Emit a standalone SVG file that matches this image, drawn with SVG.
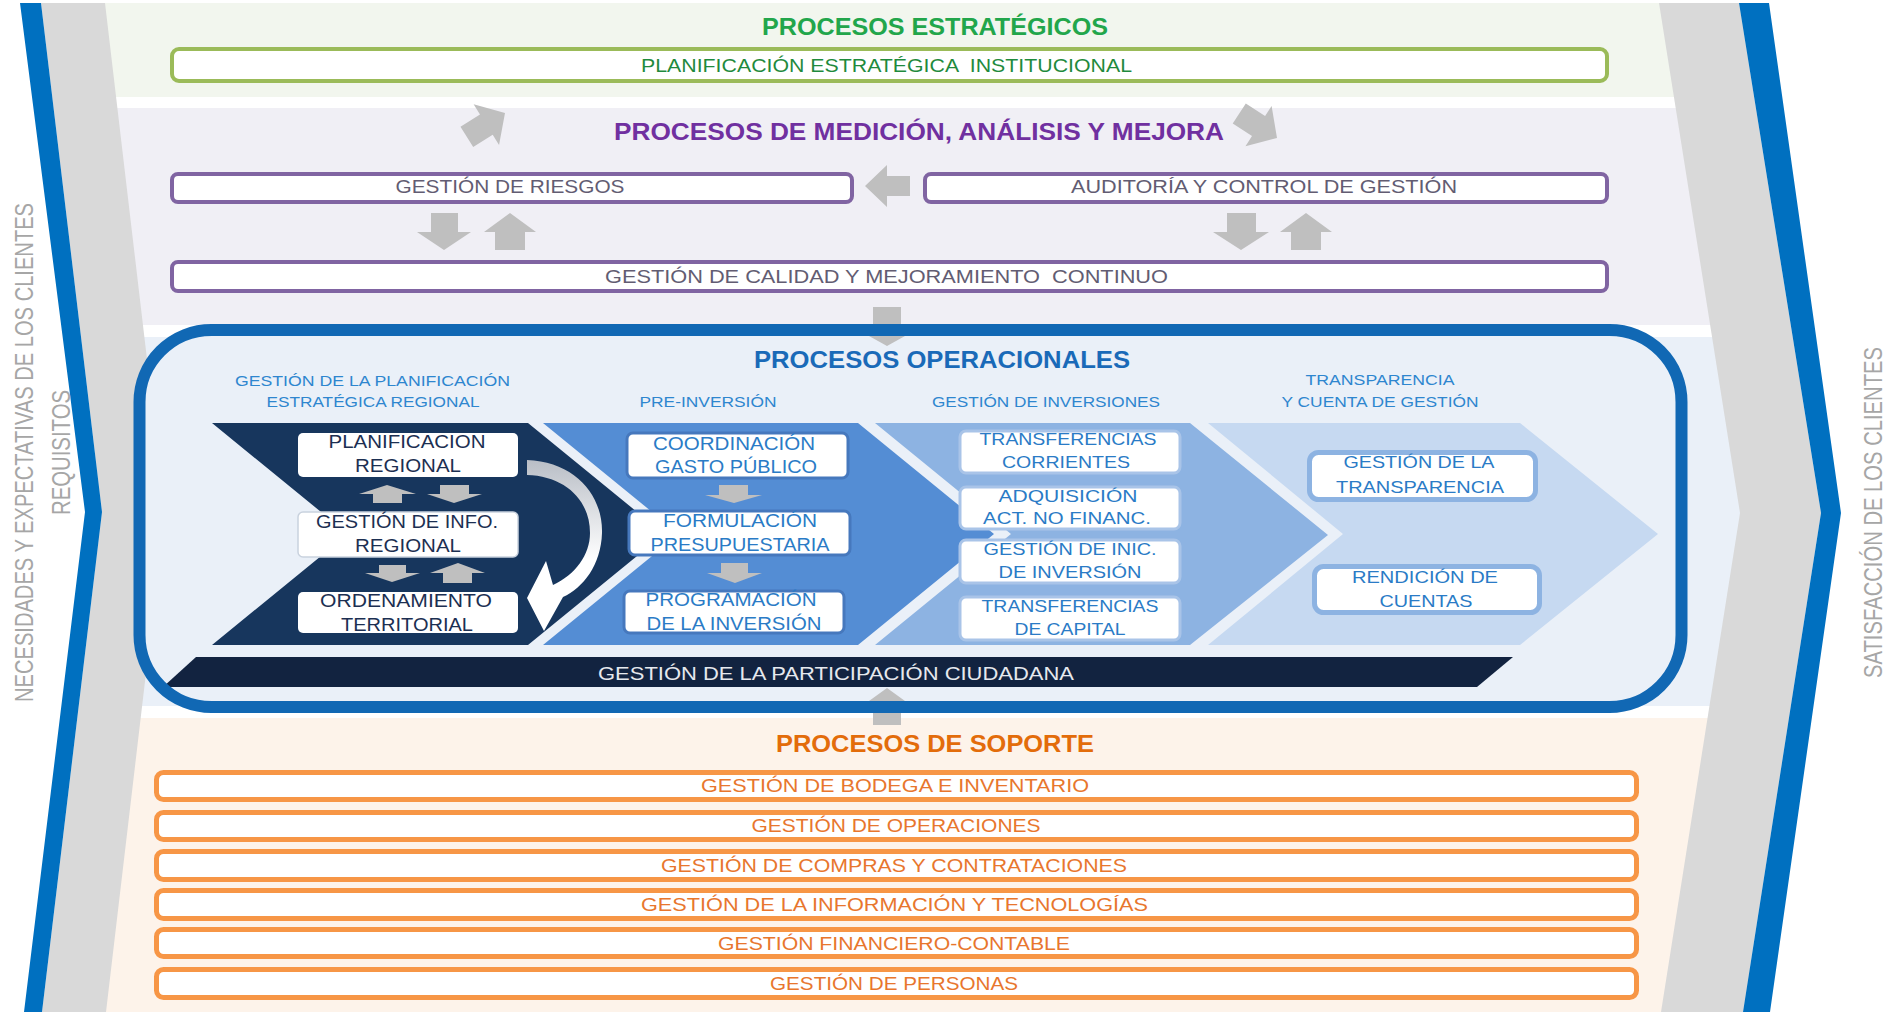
<svg xmlns="http://www.w3.org/2000/svg" width="1886" height="1012" viewBox="0 0 1886 1012">
<style>
text{font-family:"Liberation Sans",Arial,sans-serif;}
.ttl{font-weight:bold;font-size:24px;text-anchor:middle;}
.bx{font-size:18px;text-anchor:middle;}
.hd{font-size:15px;text-anchor:middle;fill:#2e86cf;}
.nv{font-size:18px;text-anchor:middle;fill:#1c2f52;}
.md{font-size:18px;text-anchor:middle;fill:#2a7bc6;}
.lt{font-size:17px;text-anchor:middle;fill:#2a7bc6;}
.or{font-size:18px;text-anchor:middle;fill:#e8762d;}
.vt{font-size:26px;text-anchor:middle;fill:#a6a6a6;}
.gbox{fill:#fff;stroke:#9bbb59;stroke-width:4;}
.pbox{fill:#fff;stroke:#8064a2;stroke-width:4;}
.obox{fill:#fff;stroke:#f79646;stroke-width:5;}
.wbox{fill:#fff;}
.arr{fill:#bfbfbf;}
</style>
<defs>
<linearGradient id="curveGrad" x1="0" y1="460" x2="0" y2="560" gradientUnits="userSpaceOnUse">
<stop offset="0" stop-color="#b9bec6"/>
<stop offset="1" stop-color="#ffffff"/>
</linearGradient>
</defs>

<!-- bands -->
<g id="bands">
<rect x="95" y="3" width="1655" height="94" fill="#f2f6ee"/>
<rect x="95" y="108" width="1655" height="217" fill="#f0eff5"/>
<rect x="95" y="337" width="1655" height="369" fill="#eaf0f8"/>
<rect x="95" y="718" width="1655" height="294" fill="#fdf3ea"/>
</g>

<!-- side chevrons -->
<g id="left-band">
<polygon points="41,3 105,3 165,512 106,1012 42,1012 102,512" fill="#d9d9d9"/>
<polygon points="20,3 41,3 102,512 42,1012 24,1012 85,512" fill="#0070c0"/>
</g>
<g id="right-band">
<polygon points="1659,3 1739,3 1821,513 1743,1012 1661,1012 1740,513" fill="#d9d9d9"/>
<polygon points="1739,3 1769,3 1841,513 1770,1012 1743,1012 1821,513" fill="#0070c0"/>
</g>
<g id="left-label">
<text class="vt" transform="translate(33,452.5) rotate(-90)" textLength="499" lengthAdjust="spacingAndGlyphs">NECESIDADES Y EXPECTATIVAS DE LOS CLIENTES</text>
<text class="vt" transform="translate(70,452.5) rotate(-90)" textLength="125" lengthAdjust="spacingAndGlyphs">REQUISITOS</text>
</g>
<g id="right-label">
<text class="vt" transform="translate(1882,512.5) rotate(-90)" textLength="331" lengthAdjust="spacingAndGlyphs">SATISFACCIÓN DE LOS CLIENTES</text>
</g>

<!-- strategic -->
<g id="strategic-title">
<text class="ttl" x="935" y="35" fill="#22a64b" textLength="346" lengthAdjust="spacingAndGlyphs">PROCESOS ESTRATÉGICOS</text>
</g>
<g id="planificacion-estrategica">
<rect class="gbox" x="172" y="49" width="1435" height="32" rx="7"/>
<text class="bx" x="886.5" y="72" fill="#1f8a3d" xml:space="preserve" textLength="491" lengthAdjust="spacingAndGlyphs">PLANIFICACIÓN ESTRATÉGICA  INSTITUCIONAL</text>
</g>

<!-- measurement -->
<g id="medicion-title">
<text class="ttl" x="919" y="140" fill="#7030a0" textLength="610" lengthAdjust="spacingAndGlyphs">PROCESOS DE MEDICIÓN, ANÁLISIS Y MEJORA</text>
</g>
<g id="gestion-riesgos">
<rect class="pbox" x="172" y="174" width="680" height="28" rx="6"/>
<text class="bx" x="510" y="193" fill="#625c72" textLength="229" lengthAdjust="spacingAndGlyphs">GESTIÓN DE RIESGOS</text>
</g>
<g id="auditoria">
<rect class="pbox" x="925" y="174" width="682" height="28" rx="6"/>
<text class="bx" x="1264" y="193" fill="#625c72" textLength="386" lengthAdjust="spacingAndGlyphs">AUDITORÍA Y CONTROL DE GESTIÓN</text>
</g>
<g id="calidad">
<rect class="pbox" x="172" y="262" width="1435" height="29" rx="6"/>
<text class="bx" x="886.5" y="283" fill="#625c72" xml:space="preserve" textLength="563" lengthAdjust="spacingAndGlyphs">GESTIÓN DE CALIDAD Y MEJORAMIENTO  CONTINUO</text>
</g>

<!-- operational box fill -->
<g id="operacionales-panel">
<rect x="139.5" y="330" width="1542" height="377" rx="72" fill="#eaf0f8"/>
<text class="ttl" x="942" y="368" font-size="23" fill="#1a6ab8" style="font-size:23px" textLength="376" lengthAdjust="spacingAndGlyphs">PROCESOS OPERACIONALES</text>
<text class="hd" x="372.5" y="386" textLength="275" lengthAdjust="spacingAndGlyphs">GESTIÓN DE LA PLANIFICACIÓN</text>
<text class="hd" x="373" y="407" textLength="213" lengthAdjust="spacingAndGlyphs">ESTRATÉGICA REGIONAL</text>
<text class="hd" x="708" y="407" textLength="137" lengthAdjust="spacingAndGlyphs">PRE-INVERSIÓN</text>
<text class="hd" x="1046" y="407" textLength="228" lengthAdjust="spacingAndGlyphs">GESTIÓN DE INVERSIONES</text>
<text class="hd" x="1380" y="385" textLength="149" lengthAdjust="spacingAndGlyphs">TRANSPARENCIA</text>
<text class="hd" x="1380" y="407" textLength="197" lengthAdjust="spacingAndGlyphs">Y CUENTA DE GESTIÓN</text>
</g>

<g id="chevron-planificacion">
<polygon points="212,423 528,423 664,534 528,645 212,645 348,534" fill="#17365d"/>
</g>
<g id="chevron-preinversion">
<polygon points="543,423 858,423 994,534 858,645 543,645 679,534" fill="#548dd4"/>
</g>
<g id="chevron-inversiones">
<polygon points="875,423 1190,423 1328,535 1190,645 875,645 1011,534" fill="#8db3e2"/>
</g>
<g id="chevron-transparencia">
<polygon points="1208,423 1520,423 1658,534 1520,645 1208,645 1343,534" fill="#c6d9f1"/>
</g>

<g id="planificacion-regional">
<rect class="wbox" x="298" y="433" width="220" height="44" rx="5"/>
<text class="nv" x="407" y="448" textLength="157" lengthAdjust="spacingAndGlyphs">PLANIFICACION</text>
<text class="nv" x="408" y="472" textLength="106" lengthAdjust="spacingAndGlyphs">REGIONAL</text>
</g>
<g id="gestion-info-regional">
<rect class="wbox" x="298" y="512" width="220" height="45" rx="5" stroke="#c9d2de" stroke-width="1.5"/>
<text class="nv" x="407" y="528" textLength="182" lengthAdjust="spacingAndGlyphs">GESTIÓN DE INFO.</text>
<text class="nv" x="408" y="552" textLength="106" lengthAdjust="spacingAndGlyphs">REGIONAL</text>
</g>
<g id="ordenamiento-territorial">
<rect class="wbox" x="298" y="592" width="220" height="41" rx="5"/>
<text class="nv" x="406" y="607" textLength="172" lengthAdjust="spacingAndGlyphs">ORDENAMIENTO</text>
<text class="nv" x="407" y="631" textLength="132" lengthAdjust="spacingAndGlyphs">TERRITORIAL</text>
</g>

<g id="coordinacion-gasto">
<rect class="wbox" x="627" y="433" width="221" height="45" rx="6" stroke="#4678bd" stroke-width="3"/>
<text class="md" x="734" y="450" textLength="162" lengthAdjust="spacingAndGlyphs">COORDINACIÓN</text>
<text class="md" x="736" y="473" textLength="162" lengthAdjust="spacingAndGlyphs">GASTO PÚBLICO</text>
</g>
<g id="formulacion-presupuestaria">
<rect class="wbox" x="629" y="511" width="221" height="44" rx="6" stroke="#4678bd" stroke-width="3"/>
<text class="md" x="740" y="527" textLength="154" lengthAdjust="spacingAndGlyphs">FORMULACIÓN</text>
<text class="md" x="740" y="551" textLength="179" lengthAdjust="spacingAndGlyphs">PRESUPUESTARIA</text>
</g>
<g id="programacion-inversion">
<rect class="wbox" x="624" y="591" width="220" height="42" rx="6" stroke="#4678bd" stroke-width="3"/>
<text class="md" x="731" y="606" textLength="171" lengthAdjust="spacingAndGlyphs">PROGRAMACIÓN</text>
<text class="md" x="734" y="630" textLength="175" lengthAdjust="spacingAndGlyphs">DE LA INVERSIÓN</text>
</g>

<g id="transferencias-corrientes">
<rect class="wbox" x="960" y="431" width="220" height="42" rx="6" stroke="#a9c4e8" stroke-width="3"/>
<text class="lt" x="1068" y="445" textLength="177" lengthAdjust="spacingAndGlyphs">TRANSFERENCIAS</text>
<text class="lt" x="1066" y="468" textLength="128" lengthAdjust="spacingAndGlyphs">CORRIENTES</text>
</g>
<g id="adquisicion">
<rect class="wbox" x="960" y="487" width="220" height="42" rx="6" stroke="#a9c4e8" stroke-width="3"/>
<text class="lt" x="1068" y="502" textLength="139" lengthAdjust="spacingAndGlyphs">ADQUISICIÓN</text>
<text class="lt" x="1067" y="524" textLength="168" lengthAdjust="spacingAndGlyphs">ACT. NO FINANC.</text>
</g>
<g id="gestion-iniciativas">
<rect class="wbox" x="960" y="540" width="220" height="43" rx="6" stroke="#a9c4e8" stroke-width="3"/>
<text class="lt" x="1070" y="555" textLength="173" lengthAdjust="spacingAndGlyphs">GESTIÓN DE INIC.</text>
<text class="lt" x="1070" y="578" textLength="143" lengthAdjust="spacingAndGlyphs">DE INVERSIÓN</text>
</g>
<g id="transferencias-capital">
<rect class="wbox" x="960" y="597" width="220" height="43" rx="6" stroke="#a9c4e8" stroke-width="3"/>
<text class="lt" x="1070" y="612" textLength="177" lengthAdjust="spacingAndGlyphs">TRANSFERENCIAS</text>
<text class="lt" x="1070" y="635" textLength="111" lengthAdjust="spacingAndGlyphs">DE CAPITAL</text>
</g>

<g id="gestion-transparencia">
<rect class="wbox" x="1309.5" y="452.5" width="226" height="47" rx="9" stroke="#8db3e2" stroke-width="5"/>
<text class="lt" x="1419" y="468" textLength="151" lengthAdjust="spacingAndGlyphs">GESTIÓN DE LA</text>
<text class="lt" x="1420" y="493" textLength="168" lengthAdjust="spacingAndGlyphs">TRANSPARENCIA</text>
</g>
<g id="rendicion-cuentas">
<rect class="wbox" x="1314.5" y="566.5" width="225" height="46" rx="9" stroke="#8db3e2" stroke-width="5"/>
<text class="lt" x="1425" y="583" textLength="146" lengthAdjust="spacingAndGlyphs">RENDICIÓN DE</text>
<text class="lt" x="1426" y="607" textLength="93" lengthAdjust="spacingAndGlyphs">CUENTAS</text>
</g>

<g id="participacion-ciudadana">
<polygon points="196,657 1513,657 1477,687 163,687" fill="#122340"/>
<text x="836" y="680" fill="#e6e9ee" style="font-size:19px;text-anchor:middle" textLength="476" lengthAdjust="spacingAndGlyphs">GESTIÓN DE LA PARTICIPACIÓN CIUDADANA</text>
</g>

<!-- connectors -->
<g id="connectors">
<polygon class="arr" transform="translate(505,113) rotate(-32)" points="0,0 -22,-24 -22,-12 -45,-12 -45,12 -22,12 -22,24"/>
<polygon class="arr" transform="translate(1277,138) rotate(33)" points="0,0 -22,-24 -22,-12 -45,-12 -45,12 -22,12 -22,24"/>
<polygon class="arr" points="865,186 887,165 887,176 910,176 910,196 887,196 887,207"/>
<polygon class="arr" points="431,213 458,213 458,232 471,232 444,250 417,232 431,232"/>
<polygon class="arr" points="510,213 536,232 525,232 525,250 495,250 495,232 484,232"/>
<polygon class="arr" points="1227,213 1256,213 1256,232 1269,232 1241,250 1213,232 1227,232"/>
<polygon class="arr" points="1306,213 1332,232 1321,232 1321,250 1291,250 1291,232 1280,232"/>
<polygon class="arr" points="873,307 901,307 901,336 905,336 887,346 869,336 873,336"/>
<polygon class="arr" points="887,688 905,701 901,701 901,725 873,725 873,701 869,701"/>
<polygon class="arr" points="387,485 416,494 402,494 402,503 373,503 373,494 359,494"/>
<polygon class="arr" points="440,485 469,485 469,494 482,494 454,503 427,494 440,494"/>
<polygon class="arr" points="379,565 406,565 406,573 420,573 392,582 365,573 379,573"/>
<polygon class="arr" points="458,563 485,573 472,573 472,583 443,583 443,573 430,573"/>
<polygon class="arr" points="719,485 748,485 748,495 762,495 734,503 705,495 719,495"/>
<polygon class="arr" points="721,563 748,563 748,573 762,573 735,583 707,573 721,573"/>
<path d="M527,460 C575,462 603,495 602,533 C601,565 583,588 563,597 L544,631 L527,598 L546,561 L553,585 C575,575 590,555 590,533 C590,500 565,476 527,475 Z" fill="url(#curveGrad)"/>
</g>

<g id="operacionales-border">
<rect x="139.5" y="330" width="1542" height="377" rx="72" fill="none" stroke="#1168b4" stroke-width="12"/>
</g>

<!-- support -->
<g id="soporte-title">
<text class="ttl" x="935" y="752" fill="#e36c0a" style="font-size:23px" textLength="318" lengthAdjust="spacingAndGlyphs">PROCESOS DE SOPORTE</text>
</g>
<g id="bodega">
<rect class="obox" x="156.5" y="772.5" width="1480" height="27" rx="7"/>
<text class="or" x="895" y="792" textLength="388" lengthAdjust="spacingAndGlyphs">GESTIÓN DE BODEGA E INVENTARIO</text>
</g>
<g id="operaciones">
<rect class="obox" x="156.5" y="812.5" width="1480" height="27" rx="7"/>
<text class="or" x="896" y="832" textLength="289" lengthAdjust="spacingAndGlyphs">GESTIÓN DE OPERACIONES</text>
</g>
<g id="compras">
<rect class="obox" x="156.5" y="851.5" width="1480" height="28" rx="7"/>
<text class="or" x="894" y="872" textLength="466" lengthAdjust="spacingAndGlyphs">GESTIÓN DE COMPRAS Y CONTRATACIONES</text>
</g>
<g id="informacion">
<rect class="obox" x="156.5" y="890.5" width="1480" height="28" rx="7"/>
<text class="or" x="894.5" y="911" textLength="507" lengthAdjust="spacingAndGlyphs">GESTIÓN DE LA INFORMACIÓN Y TECNOLOGÍAS</text>
</g>
<g id="financiero">
<rect class="obox" x="156.5" y="929.5" width="1480" height="27" rx="7"/>
<text class="or" x="894" y="950" textLength="352" lengthAdjust="spacingAndGlyphs">GESTIÓN FINANCIERO-CONTABLE</text>
</g>
<g id="personas">
<rect class="obox" x="156.5" y="969.5" width="1480" height="28" rx="7"/>
<text class="or" x="894" y="990" textLength="248" lengthAdjust="spacingAndGlyphs">GESTIÓN DE PERSONAS</text>
</g>
</svg>
